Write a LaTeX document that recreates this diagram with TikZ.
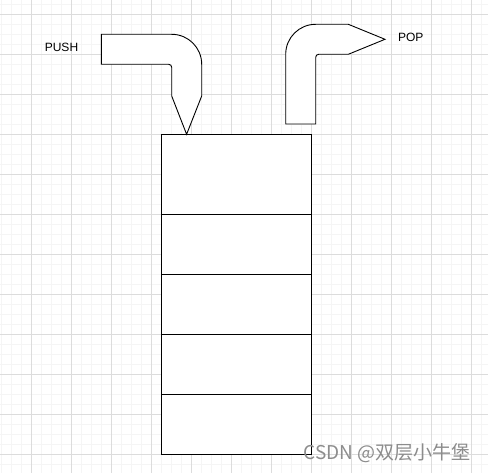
\documentclass[tikz,border=0pt]{standalone}
\usepackage{fontspec}
\setmainfont{Liberation Sans}
\newfontfamily\cjk{Noto Sans CJK SC}
\usepackage{tikz}
\usetikzlibrary{calc}
\definecolor{gridmin}{HTML}{F5F5F5}
\definecolor{gridmaj}{HTML}{DCDCDC}
\definecolor{ink}{HTML}{000000}
\definecolor{mark}{HTML}{8C8C8C}
\tikzset{
  minor/.style={draw=gridmin, line width=0.8pt},
  major/.style={draw=gridmaj, line width=0.8pt},
  cell/.style={draw=ink, fill=white, line width=1.1pt, minimum width=150pt, inner sep=0pt, outer sep=0pt},
  elbow/.style={draw=ink, fill=white, line width=0.9pt, line join=miter},
  lab/.style={text=ink, font=\fontsize{12}{14}\selectfont, inner sep=0pt},
  labm/.style={text=mark, font=\cjk\fontsize{19}{22}\selectfont, inner sep=0pt},
}

\begin{document}
\begin{tikzpicture}[x=1pt,y=-1pt]
  \useasboundingbox (0,0) rectangle (488,473);
  \fill[white] (0,0) rectangle (488,473);
  % grid
  \foreach \x in {1.3,11.3,...,481.3} \draw[minor] (\x,0) -- (\x,473);
  \foreach \y in {4.3,14.3,...,464.3} \draw[minor] (0,\y) -- (488,\y);
  \foreach \x in {31.3,71.3,...,471.3} \draw[major] (\x,0) -- (\x,473);
  \foreach \y in {14.3,54.3,...,454.3} \draw[major] (0,\y) -- (488,\y);
  % stack
  \node[cell, minimum height=80pt] (slot1) at (236.3,174.3) {};
  \node[cell, minimum height=60pt] (slot2) at (236.3,244.3) {};
  \node[cell, minimum height=60pt] (slot3) at (236.3,304.3) {};
  \node[cell, minimum height=60pt] (slot4) at (236.3,364.3) {};
  \node[cell, minimum height=60pt] (slot5) at (236.3,424.3) {};
  % push arrow
  \draw[elbow] (101.3,34.3) -- (171.7,34.3)
    .. controls (188.3,34.3) and (201.7,47.7) .. (201.7,64.3)
    -- (201.7,96) -- (186.6,134.3) -- (171.7,96) -- (171.7,67.3)
    .. controls (171.7,65.6) and (170.4,64.3) .. (168.7,64.3)
    -- (101.3,64.3) -- cycle;
  % pop arrow
  \draw[elbow] (285.7,124) -- (285.7,54.3)
    .. controls (285.7,37.7) and (299.1,24.3) .. (315.7,24.3)
    -- (348.3,24.3) -- (385,39.3) -- (348.3,54.3) -- (318.7,54.3)
    .. controls (317,54.3) and (315.7,55.6) .. (315.7,57.3)
    -- (315.7,124) -- cycle;
  \node[lab] (push) at (61.5,47.5) {PUSH};
  \node[lab] (pop) at (410.8,37) {POP};
  \node[labm] (mark) at (387.2,453) {CSDN @双层小牛堡};
\end{tikzpicture}
\end{document}
